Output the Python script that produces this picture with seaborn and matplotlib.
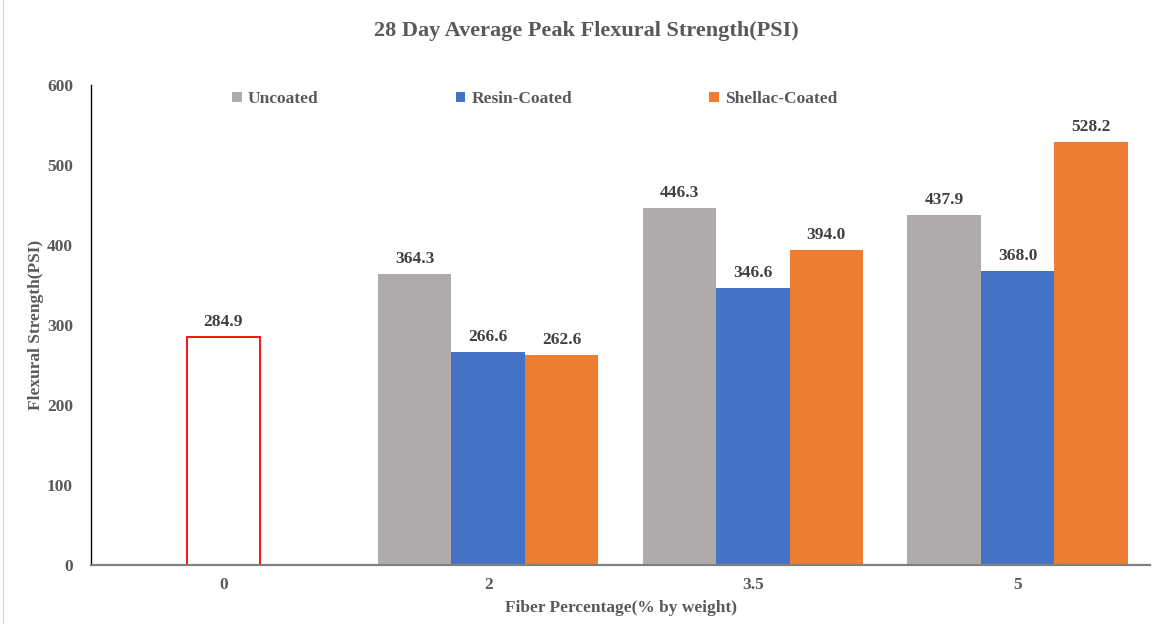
import matplotlib
matplotlib.use("Agg")
import matplotlib.pyplot as plt
from matplotlib.lines import Line2D
from matplotlib.patches import Patch
import seaborn as sns
import pandas as pd

# Fiber content (% by weight) and 28-day flexural strength (PSI)
fiber_levels = ["0", "2", "3.5", "5"]
coated_levels = ["2", "3.5", "5"]
series_names = ["Uncoated", "Resin-Coated", "Shellac-Coated"]
uncoated = [364.3, 446.3, 437.9]
resin_coated = [266.6, 346.6, 368.0]
shellac_coated = [262.6, 394.0, 528.2]
control_value = [284.9]

series_colors = ["#AFABAB", "#4472C4", "#ED7D31"]
text_gray = "#595959"
label_dark = "#404040"

sns.set_theme(style="white")
plt.rcParams["font.family"] = ["Liberation Serif", "DejaVu Serif"]
plt.rcParams["font.weight"] = "bold"

rows = []
for name, vals in zip(series_names, [uncoated, resin_coated, shellac_coated]):
    for f, v in zip(coated_levels, vals):
        rows.append({"fiber": f, "strength": v, "coating": name})
df = pd.DataFrame(rows)
ctrl = pd.DataFrame({"fiber": ["0"], "strength": control_value})

fig = plt.figure(figsize=(11.54, 6.24), dpi=100)
ax = fig.add_axes([0.0789, 0.0946, 0.9176, 0.7692])

sns.barplot(data=df, x="fiber", y="strength", hue="coating", order=fiber_levels,
            hue_order=series_names, palette=series_colors, width=0.832,
            errorbar=None, saturation=1, linewidth=0, ax=ax)
sns.barplot(data=ctrl, x="fiber", y="strength", order=fiber_levels, width=0.277,
            color="white", edgecolor="#FF0000", linewidth=1.3, saturation=1,
            errorbar=None, ax=ax)

for cont in ax.containers:
    ax.bar_label(cont, fmt="%.1f", padding=5, fontsize=12.5, fontweight="bold",
                 color=label_dark)

ax.set_ylim(0, 600)
ax.set_yticks(range(0, 601, 100))
ax.set_xlim(-0.5, 3.5)
ax.tick_params(axis="both", length=0, labelsize=12.5, labelcolor=text_gray)
ax.tick_params(axis="y", pad=13)
ax.tick_params(axis="x", pad=9)
for lab in ax.get_xticklabels() + ax.get_yticklabels():
    lab.set_fontweight("bold")

ax.set_xlabel("Fiber Percentage(% by weight)", fontsize=12.5, fontweight="bold",
              color=text_gray, labelpad=5)
ax.set_ylabel("Flexural Strength(PSI)", fontsize=12.5, fontweight="bold",
              color=text_gray, labelpad=2)
fig.suptitle("28 Day Average Peak Flexural Strength(PSI)", x=0.508, y=0.966,
             fontsize=16, fontweight="bold", color=text_gray)

for side in ["top", "right"]:
    ax.spines[side].set_visible(False)
ax.spines["left"].set_color("black")
ax.spines["left"].set_linewidth(1.0)
ax.spines["bottom"].set_color("#808080")
ax.spines["bottom"].set_linewidth(1.6)

handles = [Patch(facecolor=c, edgecolor="none") for c in series_colors]
ax.legend(handles, series_names, ncol=3, frameon=False, loc="center left",
          bbox_to_anchor=(0.125, 0.97), borderpad=0, handlelength=0.55,
          handleheight=0.55, handletextpad=0.35, columnspacing=7.9,
          prop={"family": "Liberation Serif", "weight": "bold", "size": 12.5},
          labelcolor=text_gray)

fig.add_artist(Line2D([0.003, 0.003], [0.0, 1.0], color="#D9D9D9", lw=1,
                      transform=fig.transFigure))

fig.savefig("out.png", dpi=100)
